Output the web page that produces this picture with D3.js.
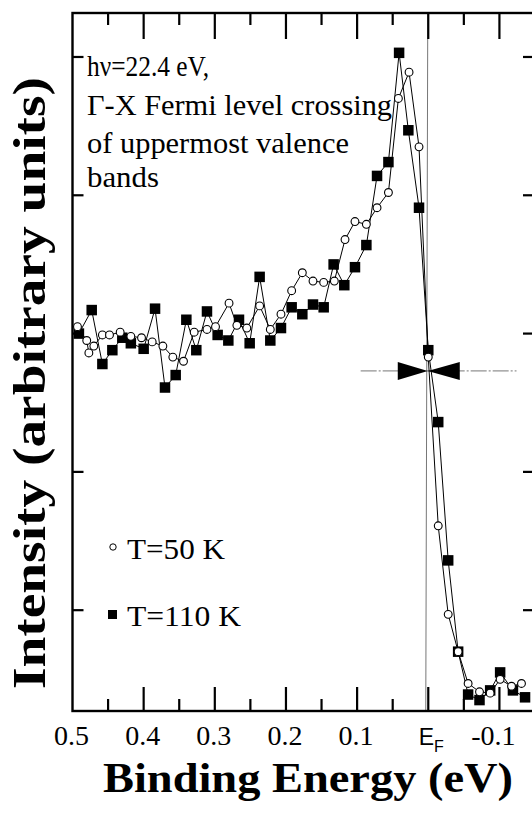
<!DOCTYPE html>
<html>
<head>
<meta charset="utf-8">
<script src="https://cdn.jsdelivr.net/npm/d3@7/dist/d3.min.js"></script>
<style>
  html, body { margin: 0; padding: 0; background: #fff; }
  svg { display: block; }
</style>
</head>
<body>
<svg id="chart" width="532" height="813"></svg>
<script>
// ---------------- data ----------------
// T = 50 K (open circles): binding energy (eV) and intensity (arb. units)
const energy50 = [0.493,0.480,0.477,0.470,0.458,0.448,0.433,0.418,0.403,0.388,0.373,0.359,0.344,0.329,0.311,0.299,0.280,0.269,0.255,0.237,0.222,0.207,0.192,0.177,0.162,0.147,0.132,0.117,0.103,0.087,0.072,0.056,0.042,0.027,0.013,0.000,-0.014,-0.028,-0.042,-0.056,-0.072,-0.087,-0.101,-0.117,-0.131];
const intensity50 = [3.05,2.95,2.86,2.91,2.99,2.99,3.01,2.98,2.97,2.94,2.91,2.83,2.80,3.01,3.03,3.05,3.22,3.06,3.04,3.20,3.03,3.14,3.31,3.44,3.38,3.37,3.38,3.68,3.81,3.79,3.91,4.02,4.70,4.89,4.35,2.83,1.61,0.97,0.70,0.47,0.41,0.40,0.50,0.45,0.47];
// T = 110 K (filled squares)
const energy110 = [0.491,0.473,0.458,0.444,0.430,0.418,0.400,0.384,0.370,0.355,0.340,0.326,0.311,0.296,0.281,0.266,0.251,0.237,0.222,0.207,0.192,0.177,0.162,0.147,0.133,0.118,0.103,0.087,0.072,0.056,0.041,0.028,0.013,0.000,-0.014,-0.028,-0.042,-0.056,-0.072,-0.087,-0.101,-0.119,-0.136];
const intensity110 = [3.00,3.17,2.78,2.88,2.97,2.93,2.89,3.18,2.61,2.70,3.10,2.88,3.16,2.99,2.95,3.10,2.93,3.41,2.95,3.04,3.19,3.14,3.21,3.19,3.50,3.35,3.48,3.64,4.14,4.24,5.03,4.47,3.91,2.88,2.36,1.36,0.70,0.39,0.35,0.42,0.55,0.42,0.37];

// axis ticks
const xMajorTicks = [0.5, 0.4, 0.3, 0.2, 0.1, 0.0, -0.1];
const xMajorLabels = ["0.5", "0.4", "0.3", "0.2", "0.1", "EF", "-0.1"];
const xMinorTicks = [0.45, 0.35, 0.25, 0.15, 0.05, -0.05];
const yTicks = [1, 2, 3, 4, 5];

// Fermi-level crossing marker (energy, intensity)
const crossing = [0.0, 2.73];

// annotation and legend
const noteLines = ["h\u03bd=22.4 eV,", "\u0393-X Fermi level crossing", "of uppermost valence", "bands"];
const legendLabels = ["T=50 K", "T=110 K"];

// ---------------- drawing ----------------
const svg = d3.select("#chart");
const x = d3.scaleLinear().domain([0.5, -0.15]).range([72.5, 535]);
const y = d3.scaleLinear().domain([0.271, 5.318]).range([711, 13]);

const serif = "'Liberation Serif', 'Times New Roman', serif";
const sans = "'Liberation Sans', Arial, sans-serif";

const x0 = x.range()[0], x1 = x.range()[1];
const yTop = y.range()[1], yBot = y.range()[0];

// vertical Fermi-level line
svg.append("line")
  .attr("x1", x(0) - 0.5).attr("x2", x(0) - 2.5)
  .attr("y1", yTop).attr("y2", yBot)
  .attr("stroke", "#777").attr("stroke-width", 1);

// horizontal line through the crossing
svg.append("line")
  .attr("x1", x(0.095)).attr("x2", x(-0.124))
  .attr("y1", y(crossing[1])).attr("y2", y(crossing[1]))
  .attr("stroke", "#666").attr("stroke-width", 0.9)
  .attr("stroke-dasharray", "16 2 2 2");

// frame
svg.append("rect")
  .attr("x", x0).attr("y", yTop)
  .attr("width", x1 - x0).attr("height", yBot - yTop)
  .attr("fill", "none").attr("stroke", "#000").attr("stroke-width", 2.4);

// bottom & top ticks
const tickG = svg.append("g").attr("stroke", "#000").attr("stroke-width", 2.2);
xMajorTicks.filter(d => d < 0.5).forEach(d => {
  tickG.append("line").attr("x1", x(d)).attr("x2", x(d)).attr("y1", yBot).attr("y2", yBot - 24);
  tickG.append("line").attr("x1", x(d)).attr("x2", x(d)).attr("y1", yTop).attr("y2", yTop + 26);
});
xMinorTicks.forEach(d => {
  tickG.append("line").attr("x1", x(d)).attr("x2", x(d)).attr("y1", yBot).attr("y2", yBot - 12);
  tickG.append("line").attr("x1", x(d)).attr("x2", x(d)).attr("y1", yTop).attr("y2", yTop + 12);
});
// left & right ticks
yTicks.forEach(d => {
  tickG.append("line").attr("x1", x0).attr("x2", x0 + 11).attr("y1", y(d)).attr("y2", y(d));
  tickG.append("line").attr("x1", x1).attr("x2", x1 - 12).attr("y1", y(d)).attr("y2", y(d));
});

// x tick labels
const labG = svg.append("g").attr("font-family", serif).attr("font-size", 28).attr("fill", "#000");
xMajorTicks.forEach((d, i) => {
  const lab = xMajorLabels[i];
  if (lab === "EF") {
    const t = svg.append("text").attr("x", x(d) + 3).attr("y", 745)
      .attr("text-anchor", "middle").attr("font-family", sans).attr("font-size", 23);
    t.append("tspan").text("E");
    t.append("tspan").attr("font-size", 16).attr("dy", 7).text("F");
  } else {
    labG.append("text").attr("x", x(d) + (d < 0 ? -6 : -1)).attr("y", 745)
      .attr("text-anchor", "middle").text(lab);
  }
});

// axis titles
svg.append("text")
  .attr("x", 308).attr("y", 792)
  .attr("text-anchor", "middle")
  .attr("font-family", serif).attr("font-weight", "bold").attr("font-size", 42)
  .attr("textLength", 410).attr("lengthAdjust", "spacingAndGlyphs")
  .text("Binding Energy (eV)");

svg.append("text")
  .attr("transform", "translate(45,383) rotate(-90)")
  .attr("text-anchor", "middle")
  .attr("font-family", serif).attr("font-weight", "bold").attr("font-size", 46)
  .attr("textLength", 612).attr("lengthAdjust", "spacingAndGlyphs")
  .text("Intensity (arbitrary units)");

// annotation
const noteG = svg.append("g").attr("font-family", serif).attr("font-size", 29).attr("fill", "#000");
const noteBase = [76, 115, 153, 187];
const noteLen = [122, 305, 262, 72];
noteLines.forEach((t, i) => {
  noteG.append("text").attr("x", 87).attr("y", noteBase[i])
    .attr("textLength", noteLen[i]).attr("lengthAdjust", "spacingAndGlyphs").text(t);
});

// data lines
const line = d3.line().x(d => x(d[0])).y(d => y(d[1]));
const pts50 = energy50.map((e, i) => [e, intensity50[i]]);
const pts110 = energy110.map((e, i) => [e, intensity110[i]]);

svg.append("path").datum(pts110).attr("d", line)
  .attr("fill", "none").attr("stroke", "#000").attr("stroke-width", 1);
svg.append("path").datum(pts50).attr("d", line)
  .attr("fill", "none").attr("stroke", "#000").attr("stroke-width", 1);

// markers
const sq = 10.5;
svg.append("g").selectAll("rect").data(pts110).join("rect")
  .attr("x", d => x(d[0]) - sq / 2).attr("y", d => y(d[1]) - sq / 2)
  .attr("width", sq).attr("height", sq).attr("fill", "#000");
svg.append("g").selectAll("circle").data(pts50).join("circle")
  .attr("cx", d => x(d[0])).attr("cy", d => y(d[1])).attr("r", 3.9)
  .attr("fill", "#fff").attr("stroke", "#000").attr("stroke-width", 1.1);

// bow-tie marker at the crossing
const cx = x(crossing[0]) - 0.5, cy = y(crossing[1]);
svg.append("path")
  .attr("d", `M${cx},${cy} L${cx - 30},${cy - 9} L${cx - 30},${cy + 9} Z M${cx},${cy} L${cx + 32},${cy - 9} L${cx + 32},${cy + 9} Z`)
  .attr("fill", "#000");

// legend
const legG = svg.append("g").attr("font-family", serif).attr("font-size", 30).attr("fill", "#000");
legG.append("circle").attr("cx", 113).attr("cy", 547).attr("r", 3.2)
  .attr("fill", "#fff").attr("stroke", "#000").attr("stroke-width", 1);
legG.append("text").attr("x", 127).attr("y", 559).attr("textLength", 98).attr("lengthAdjust", "spacingAndGlyphs").text(legendLabels[0]);
legG.append("rect").attr("x", 108).attr("y", 610).attr("width", 9).attr("height", 9).attr("fill", "#000");
legG.append("text").attr("x", 127).attr("y", 626).attr("textLength", 114).attr("lengthAdjust", "spacingAndGlyphs").text(legendLabels[1]);
</script>
</body>
</html>
